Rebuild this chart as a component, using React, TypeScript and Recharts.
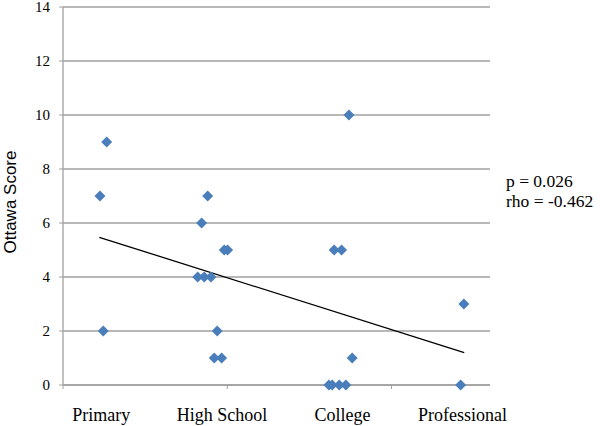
import React from 'react';
import { ScatterChart, Scatter, XAxis, YAxis, CartesianGrid } from 'recharts';

const categories = ['Primary', 'High School', 'College', 'Professional'];
const categoryPositions = [0.233, 0.968, 1.702, 2.433];

const educationX = [
  0.266, 0.225, 0.245,
  0.881, 0.844, 0.982, 1.002, 0.82, 0.86, 0.901, 0.939, 0.921, 0.966,
  1.741, 1.651, 1.696, 1.761, 1.619, 1.639, 1.682, 1.722,
  2.441, 2.421,
];
const ottawaScore = [
  9, 7, 2,
  7, 6, 5, 5, 4, 4, 4, 2, 1, 1,
  10, 5, 5, 1, 0, 0, 0, 0,
  3, 0,
];

const trendX = [0.221, 2.443];
const trendY = [5.47, 1.2];

const yTicks = [0, 2, 4, 6, 8, 10, 12, 14];
const xTicks = [0, 1, 2];
const statsLines = ['p = 0.026', 'rho = -0.462'];

const points = educationX.map((x, i) => ({ x, y: ottawaScore[i] }));
const trend = trendX.map((x, i) => ({ x, y: trendY[i] }));
const allXTicks = [...xTicks, ...categoryPositions].sort((a, b) => a - b);

const GRAY = '#a0a0a0';

const Diamond = (props: any) => {
  const { cx, cy } = props;
  const r = 5.5;
  return (
    <polygon
      points={`${cx},${cy - r} ${cx + r},${cy} ${cx},${cy + r} ${cx - r},${cy}`}
      fill="#4a7ebb"
    />
  );
};

const Empty = () => <g />;

const XTick = (props: any) => {
  const { x, y, payload } = props;
  const v = payload.value;
  if (xTicks.includes(v)) {
    return <line x1={x} y1={y} x2={x} y2={y + 4} stroke={GRAY} strokeWidth={1} />;
  }
  const idx = categoryPositions.indexOf(v);
  return (
    <text
      x={x}
      y={y + 36}
      textAnchor="middle"
      fontFamily="'Liberation Serif', serif"
      fontSize={18}
      fill="#000"
    >
      {categories[idx] ?? ''}
    </text>
  );
};

const YLabel = (props: any) => {
  const vb = props.viewBox || { x: 0, y: 0, width: 0, height: 0 };
  const x = vb.x + 16;
  const y = vb.y + vb.height / 2 + 6;
  return (
    <text
      x={x}
      y={y}
      transform={`rotate(-90, ${x}, ${y})`}
      textAnchor="middle"
      fontFamily="'Liberation Sans', sans-serif"
      fontSize={17}
      fill="#000"
    >
      Ottawa Score
    </text>
  );
};

export default function App() {
  return (
    <div style={{ position: 'absolute', left: 0, top: 0, width: 600, height: 426, background: '#fff' }}>
      <ScatterChart width={600} height={426} margin={{ top: 7, right: 110, bottom: 0, left: 0 }}>
        <CartesianGrid horizontal vertical={false} stroke={GRAY} strokeWidth={1.3} />
        <XAxis
          dataKey="x"
          type="number"
          domain={[0, 2.6]}
          ticks={allXTicks}
          interval={0}
          tick={<XTick />}
          tickSize={0}
          tickMargin={0}
          height={41}
          axisLine={{ stroke: GRAY, strokeWidth: 1.3 }}
          tickLine={false}
        />
        <YAxis
          dataKey="y"
          type="number"
          domain={[0, 14]}
          ticks={yTicks}
          width={63}
          tickSize={4}
          tickMargin={9}
          interval={0}
          axisLine={{ stroke: GRAY, strokeWidth: 1.3 }}
          tickLine={{ stroke: GRAY, strokeWidth: 1 }}
          tick={{ fontSize: 15, fontFamily: "'Liberation Serif', serif", fill: '#000' }}
          label={{ content: YLabel }}
        />
        <Scatter
          data={trend}
          line={{ stroke: '#000', strokeWidth: 1.3 }}
          lineType="joint"
          shape={Empty}
          legendType="none"
          isAnimationActive={false}
        />
        <Scatter data={points} shape={Diamond} isAnimationActive={false} />
      </ScatterChart>
      <div
        style={{
          position: 'absolute',
          left: 506,
          top: 170.5,
          fontFamily: "'Liberation Serif', serif",
          fontSize: 17.5,
          lineHeight: '20.6px',
          color: '#000',
          whiteSpace: 'nowrap',
        }}
      >
        {statsLines.map((s) => (
          <div key={s}>{s}</div>
        ))}
      </div>
    </div>
  );
}
